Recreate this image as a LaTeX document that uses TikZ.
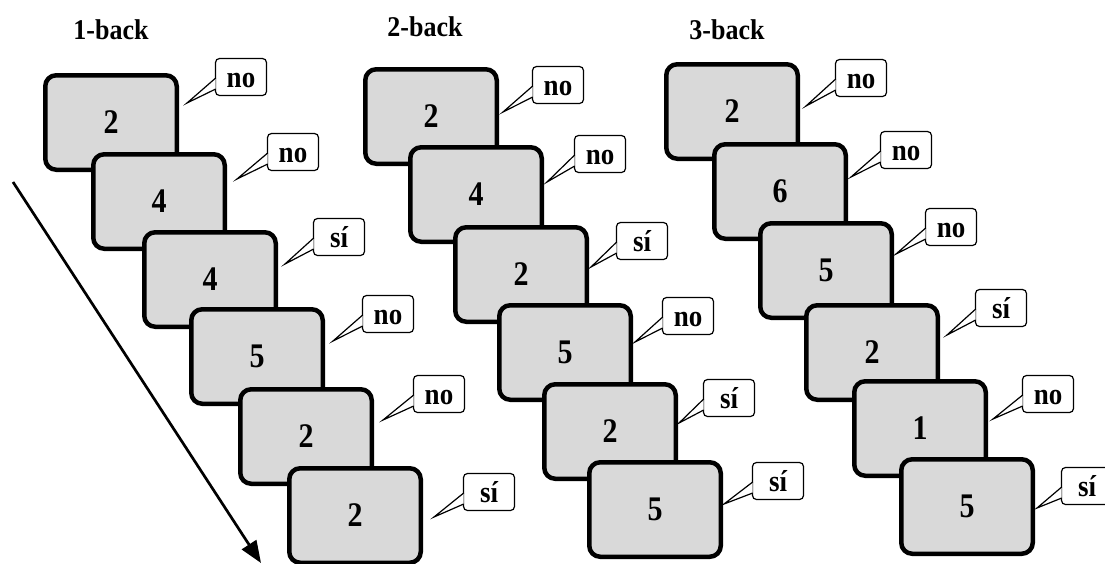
\documentclass[tikz,border=0pt]{standalone}
\usepackage{fontspec}
\setmainfont{Liberation Serif}
\usepackage{graphicx}
\usepackage{tikz}
\usetikzlibrary{arrows.meta,calc}

\newcommand{\tall}[2][1.15]{\scalebox{1}[#1]{#2}}

\begin{document}
\begin{tikzpicture}[
  x=1pt,y=-1pt,
  every node/.style={align=center},
  card/.style={rectangle,draw,line width=4.5pt,rounded corners=11pt,fill=gray!30,minimum width=131.5pt,minimum height=94.5pt,inner sep=0pt,font=\fontsize{30}{32}\selectfont\bfseries},
  bubble/.style={rectangle,draw,line width=1.2pt,rounded corners=4pt,fill=white,minimum width=51pt,minimum height=37pt,inner sep=0pt,text height=22pt,text depth=1pt,font=\fontsize{27}{30}\selectfont\bfseries},
  tail/.style={draw,fill=white,line width=1.2pt,line join=miter},
  title/.style={font=\fontsize{26}{28}\selectfont\bfseries}
]
\clip (0,0) rectangle (1105,563);

% column headings
\node[title] (back1) at (111,30) {\tall[1.1]{1-back}};
\node[title] (back2) at (425,27) {\tall[1.1]{2-back}};
\node[title] (back3) at (727,30) {\tall[1.1]{3-back}};

% cards with their answers
\foreach \n/\v/\bx/\by/\a/\cx/\cy/\tx/\ty in {
  a1/2/111/122.5/no/241/77/187/103,
  a2/4/159/201.5/no/293/152/237/179,
  a3/4/210/279.5/sí/339/237/285/264,
  a4/5/257/356.5/no/388/314/333/341,
  a5/2/306/436.5/no/439/394/383/420,
  a6/2/355/515.5/sí/489/492/434/517,
  b1/2/431/116.5/no/558/85/503/112,
  b2/4/476/194.5/no/600/154/547/182,
  b3/2/521/274.5/sí/642/241/591/267,
  b4/5/565/352.5/no/688/316/635/342,
  b5/2/610/431.5/sí/729/398/679/423,
  b6/5/655/509.5/sí/778/481/724/504,
  c1/2/732/111.5/no/861/78/806/106,
  c2/6/780/191.5/no/906/150/851/177,
  c3/5/826/270.5/no/951/227/896/254,
  c4/2/872/352.5/sí/1001/308/947/335,
  c5/1/920/428.5/no/1048/394/993/419,
  c6/5/967/506.5/sí/1087/486/1037/508}
{
  \node[card] (box\n) at (\bx,\by) {\tall{\v}};
  \node[bubble] (say\n) at (\cx,\cy) {\tall[1.12]{\a}};
  \coordinate (tip\n) at (\tx,\ty);
  \path[tail] ($(say\n.west)+(0.8,1)$) -- (tip\n) -- ($(say\n.west)+(0.8,12)$);
}

% time arrow
\coordinate (start) at (13,182);
\coordinate (stop) at (261,563);
\draw[line width=2.7pt,-{Triangle[length=22pt,width=17pt]}] (start) -- (stop);
\end{tikzpicture}
\end{document}
